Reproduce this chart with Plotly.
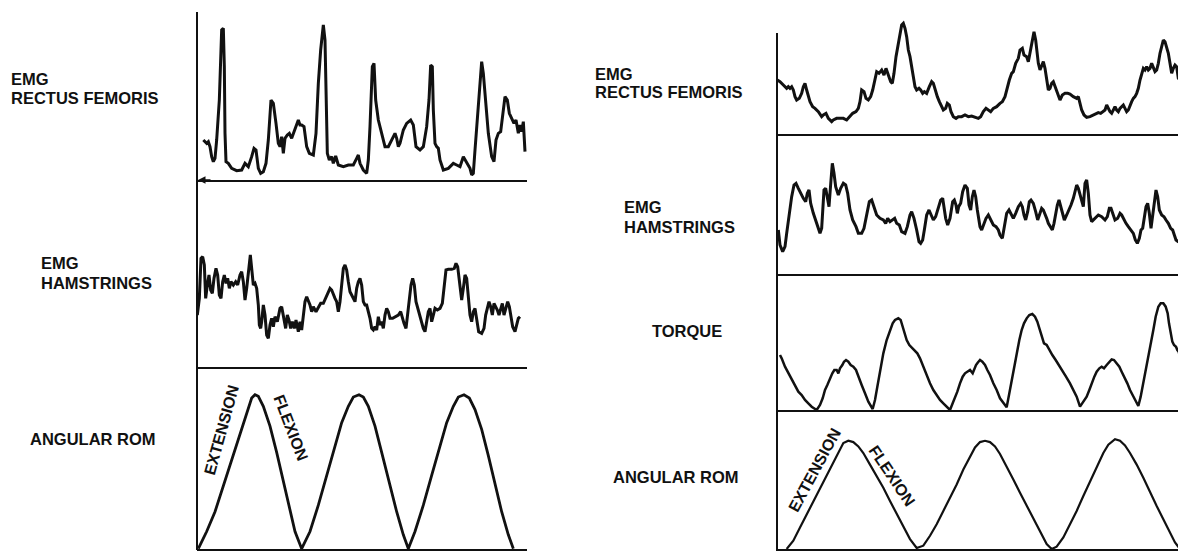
import plotly.graph_objects as go

# ---------------- data ----------------
# time in arbitrary units, amplitude in arbitrary units above each trace's baseline

# LEFT: EMG rectus femoris
L_RF_T = [40,50,55,60,65,70,75,80,88,95,100,103,105,108,115,125,140,155,165,175,185,192,198,205,212,220,228,235,243,250,
          258,265,270,275,280,285,292,298,305,310,318,325,330,335,342,350,358,370,378,385,392,400,405,408,412,418,425,430,437,445,
          460,475,490,500,505,510,520,530,535,540,547,552,557,565,575,585,595,605,615,620,625,630,640,650,662,670,678,690,700,710,
          717,722,727,730,735,740,745,750,760,775,790,800,810,820,830,840,845,850,855,862,870,875,880,887,895,905,912,918,925,932,
          937,945,952,958,965,972,978,985,990,995,1000,1005]
L_RF_V = [120,110,115,100,70,55,65,120,240,450,455,340,140,55,50,35,28,30,50,40,70,95,90,35,20,25,50,120,240,230,
          170,110,100,130,80,125,135,140,125,140,160,180,165,165,160,100,80,75,140,290,390,465,420,240,80,60,70,50,72,45,
          40,45,45,65,75,50,30,20,60,160,340,350,240,180,140,100,100,120,140,125,100,110,150,170,180,165,100,90,100,160,
          240,345,340,210,110,100,95,60,30,35,50,45,40,70,50,35,15,20,90,190,310,355,320,240,140,70,55,120,140,145,
          190,250,240,200,185,170,180,140,165,145,175,85]

# LEFT: EMG hamstrings
L_HAM_T = [22,28,33,38,43,47,52,57,62,67,72,78,83,88,93,98,103,108,113,118,123,130,137,143,150,155,160,165,170,176,
           181,186,190,195,200,205,208,212,215,220,225,230,235,240,245,250,255,262,270,275,280,287,292,297,302,307,313,318,325,330,
           335,340,345,350,355,360,365,370,378,385,392,400,408,415,420,425,430,435,440,445,450,455,460,465,470,475,480,485,490,495,
           500,505,510,515,520,525,530,535,540,545,550,555,560,565,570,575,580,585,590,595,600,608,615,625,632,637,642,648,653,658,
           663,668,673,678,683,688,695,700,705,710,715,720,725,730,735,742,750,757,762,768,775,785,793,798,803,808,812,815,820,825,
           830,835,840,845,850,855,860,866,875,882,887,892,897,902,907,912,917,922,927,932,937,942,947,953,958,963,968,975,980,985,990]
L_HAM_V = [155,205,325,330,305,205,245,275,230,220,265,295,275,215,205,255,275,250,265,235,255,245,255,245,275,285,255,200,235,295,
           335,285,245,250,235,185,125,115,135,185,155,95,85,125,145,120,150,135,175,180,155,115,155,140,115,135,115,140,105,135,
           110,155,195,210,200,185,165,180,165,180,190,190,210,225,235,230,215,205,195,165,195,255,295,305,290,255,225,215,205,195,
           235,255,265,245,195,185,185,165,145,115,110,120,110,150,125,135,115,155,175,165,145,145,150,155,165,145,130,115,155,195,
           245,265,245,195,175,155,135,115,105,135,165,175,135,155,175,170,175,190,235,290,292,292,295,310,300,255,230,200,235,275,
           265,215,155,135,165,175,145,105,100,115,155,175,195,180,155,190,180,170,155,175,190,155,175,195,180,145,120,105,125,145,150]

# LEFT: angular range of motion
L_ROM_T = [25,50,75,100,125,150,170,185,195,205,220,240,260,280,300,315,335,360,385,410,435,455,475,490,507,520,535,555,575,600,
           620,640,655,675,700,725,750,770,790,805,822,838,855,875,895,915,935,955,970]
L_ROM_V = [3,55,115,195,275,355,415,460,470,465,435,375,295,205,115,55,3,55,135,225,315,385,435,463,470,463,435,375,295,195,
           115,45,3,55,135,225,315,385,435,463,470,460,425,365,285,195,115,45,3]

# RIGHT: EMG rectus femoris
R_RF_T = [22,30,40,50,55,60,65,70,75,80,88,95,100,105,110,115,120,128,135,145,155,160,168,175,185,190,200,210,220,230,
          240,248,258,265,270,275,282,288,295,302,308,315,320,327,335,342,348,355,362,367,372,378,383,390,395,400,405,410,415,420,
          425,430,435,440,447,452,458,463,470,478,485,490,495,502,508,515,520,527,532,538,543,550,558,565,575,585,595,605,615,625,
          632,640,648,655,662,670,680,690,697,705,712,718,725,730,737,745,750,757,762,770,775,780,785,792,797,800,805,810,815,820,
          825,830,835,840,845,850,855,862,870,877,885,893,900,910,920,925,930,935,942,950,960,970,978,985,992,998,1005,1010,1015,1020,
          1025,1030,1035,1040,1045,1050,1055,1060,1065,1070,1075,1080,1085,1090,1095,1100,1105,1110,1115,1120,
          1125,1130,1135,1140,1145,1150,1155,1160,1165,1170,1175,1180,1185,1190,1195,1200,1205,1210,1215,1220,1225,1230,1235]
R_RF_V = [160,155,145,135,140,135,140,130,110,100,105,120,140,150,130,110,95,80,75,65,50,55,60,45,35,40,45,45,45,40,
          50,60,65,75,95,130,125,105,100,110,130,160,185,180,190,175,195,175,155,150,180,230,260,290,325,330,315,290,250,230,
          200,165,140,130,135,130,120,125,120,140,155,150,130,110,95,80,70,75,90,85,65,50,45,50,50,55,50,52,48,45,
          50,65,75,70,65,75,80,90,95,110,140,160,180,185,210,225,250,255,235,230,215,245,270,305,280,250,210,190,205,215,
          195,165,130,135,150,155,140,120,100,115,120,120,118,110,105,110,90,70,55,48,50,55,60,62,60,65,70,85,75,65,
          60,70,80,70,65,75,80,85,75,65,70,85,95,105,110,120,135,160,180,195,
          190,200,190,195,210,200,185,190,210,240,265,280,275,260,240,210,180,195,205,200,165,160,105]

# RIGHT: EMG hamstrings
R_HAM_T = [25,30,38,45,50,58,65,72,78,85,92,100,107,112,117,122,130,140,150,155,158,162,167,172,177,183,187,192,197,205,
           212,220,227,233,240,248,258,265,275,282,290,298,305,313,320,330,340,347,353,360,367,374,380,388,395,405,412,420,425,432,
           440,447,452,458,463,470,477,484,490,497,505,512,518,522,527,533,540,548,553,558,562,566,572,578,585,592,597,602,607,612,
           617,622,630,635,640,648,655,662,670,678,685,690,697,703,710,717,724,730,737,745,752,757,762,767,773,778,783,790,797,803,
           810,815,820,825,830,835,840,847,852,857,862,867,872,877,883,890,897,903,910,915,920,925,930,935,940,945,950,955,960,965,
           970,978,985,995,1005,1012,1018,1023,1028,1035,1043,1050,1055,1062,1068,1075,1082,1090,1096,1102,
           1108,1113,1118,1123,1128,1133,1138,1143,1148,1153,1158,1163,1168,1175,1182,1188,1195,1202,1208,1213,1218,1225,1232,1238]
R_HAM_V = [132,87,67,82,122,182,232,267,272,257,242,227,217,242,252,212,182,152,122,137,192,252,257,222,202,282,332,302,262,237,
           257,272,267,242,192,162,142,122,122,137,182,217,222,197,177,167,162,152,167,157,162,167,152,147,127,122,142,177,187,167,
           132,97,92,102,132,177,192,177,162,172,197,222,227,202,167,147,167,217,222,207,182,202,212,247,267,257,207,192,232,252,
           232,192,142,132,147,167,177,162,147,142,132,117,107,142,182,192,177,167,182,202,212,202,177,162,187,217,222,212,187,162,
           182,197,192,182,167,152,142,132,152,187,207,222,202,177,162,177,192,207,227,247,267,257,237,217,202,272,282,242,177,157,
           162,172,177,172,162,172,197,197,182,162,167,182,177,162,152,142,132,122,102,92,
           107,132,137,167,202,212,182,137,182,222,252,232,192,177,172,162,152,137,132,117,102,97,92,87]

# RIGHT: torque
R_TQ_T = [30,35,45,55,65,75,85,95,105,115,125,140,150,158,165,172,180,187,193,200,205,210,217,222,228,235,242,250,258,265,
          275,285,295,308,315,322,330,340,350,360,368,375,385,392,398,403,410,418,428,435,442,450,460,470,480,490,500,510,520,530,
          540,548,555,562,570,578,585,592,600,608,613,618,623,630,637,645,652,660,670,680,690,700,710,718,725,732,740,748,755,762,
          770,778,787,795,802,808,815,822,830,838,847,857,867,877,888,900,910,920,930,940,950,958,965,973,980,988,995,1002,1010,1018,
          1025,1032,1040,1048,1055,1063,1072,1080,1088,1095,1105,1112,1120,1128,1135,1142,1150,1157,1165,1172,
          1180,1187,1193,1197,1202,1207,1212,1218,1222,1226,1230]
R_TQ_V = [165,155,130,110,90,70,55,45,30,20,10,0,15,35,60,75,95,110,120,120,110,125,135,145,150,145,135,130,120,100,
          75,50,25,3,30,70,120,170,210,240,260,270,275,270,250,230,210,195,185,180,170,155,130,100,80,60,45,30,20,10,
          0,20,35,55,80,100,110,115,120,110,125,135,142,150,145,135,120,105,80,60,35,20,8,50,90,120,170,210,240,260,
          275,285,288,280,265,245,220,200,195,180,165,150,135,120,100,80,60,40,10,25,40,60,80,100,115,125,130,125,135,145,
          152,150,140,130,115,100,80,60,45,30,12,40,80,120,160,200,240,280,310,320,
          320,310,290,260,230,205,195,190,180,175,160]

# RIGHT: angular range of motion
R_ROM_T = [50,70,90,110,130,150,170,190,205,220,235,250,265,280,300,320,340,360,380,400,420,440,460,480,500,520,540,560,580,600,
           615,630,645,660,675,690,710,730,750,770,790,810,830,845,860,880,900,920,940,960,980,1000,1015,1035,1050,1065,1080,1100,1120,1140,
           1160,1180,1200,1215,1230]
R_ROM_V = [0,25,65,105,145,185,225,265,295,320,327,323,310,290,255,220,185,145,105,65,30,3,10,40,75,115,155,195,240,280,
           307,323,327,323,310,287,250,210,170,130,90,50,15,0,7,35,75,115,160,205,250,290,315,332,327,313,290,255,215,170,
           130,90,50,20,0]

for a, b in [(L_RF_T, L_RF_V), (L_HAM_T, L_HAM_V), (L_ROM_T, L_ROM_V), (R_RF_T, R_RF_V),
             (R_HAM_T, R_HAM_V), (R_TQ_T, R_TQ_V), (R_ROM_T, R_ROM_V)]:
    assert len(a) == len(b), (len(a), len(b))

# ---------------- layout geometry (pixels in the 1186x553 window) ----------------
OFF = 8                      # default page margin around the plot div
W, H = 1186 - OFF, 553 - OFF
def fx(p):
    return (p - OFF) / W
def fy(p):
    return 1 - (p - OFF) / H

# (x0, x1, ytop, ybottom, xrange, yrange)
PANELS = [
    (197, 527, 12, 180, [21, 1011], [0, 504]),
    (197, 527, 180, 366.7, [21, 1011], [0, 560]),
    (197, 527, 366.7, 549, [21, 1011], [2, 555]),
    (776, 1183, 16, 134, [18, 1239], [-2, 352]),
    (776, 1183, 134, 274, [18, 1239], [0, 420]),
    (776, 1183, 274, 410, [18, 1239], [0, 408]),
    (776, 1183, 410, 549, [18, 1239], [0, 420]),
]
SERIES = [(L_RF_T, L_RF_V, 3.0), (L_HAM_T, L_HAM_V, 3.0), (L_ROM_T, L_ROM_V, 2.8),
          (R_RF_T, R_RF_V, 3.0), (R_HAM_T, R_HAM_V, 3.0), (R_TQ_T, R_TQ_V, 2.5), (R_ROM_T, R_ROM_V, 2.2)]

fig = go.Figure()
layout = dict(width=W, height=H, margin=dict(l=0, r=0, t=0, b=0),
              paper_bgcolor="white", plot_bgcolor="rgba(0,0,0,0)", showlegend=False)

for i, ((x0, x1, yt, yb, xr, yr), (t, v, lw)) in enumerate(zip(PANELS, SERIES), start=1):
    sx = "" if i == 1 else str(i)
    fig.add_trace(go.Scatter(x=t, y=v, mode="lines", line=dict(color="#111111", width=lw),
                             xaxis="x" + sx, yaxis="y" + sx, hoverinfo="skip"))
    layout["xaxis" + sx] = dict(domain=[fx(x0), fx(x1)], range=xr, anchor="y" + sx,
                                showline=True, linecolor="#111111", linewidth=2,
                                showgrid=False, zeroline=False, showticklabels=False, ticks="")
    layout["yaxis" + sx] = dict(domain=[fy(yb), fy(yt)], range=yr, anchor="x" + sx,
                                showline=False, showgrid=False, zeroline=False,
                                showticklabels=False, ticks="")

fig.update_layout(**layout)

# vertical frame lines
fig.add_shape(type="line", xref="paper", yref="paper", x0=fx(197), x1=fx(197), y0=fy(12), y1=fy(550),
              line=dict(color="#111111", width=2))
fig.add_shape(type="line", xref="paper", yref="paper", x0=fx(777), x1=fx(777), y0=fy(33), y1=fy(550),
              line=dict(color="#111111", width=2))

# small arrowhead on the left separator line
fig.add_annotation(x=fx(198), y=fy(180), xref="paper", yref="paper", ax=14, ay=0, text="",
                   showarrow=True, arrowhead=2, arrowsize=1, arrowwidth=1.5, arrowcolor="#111111")

FONT = "Liberation Sans, Arial, Helvetica, sans-serif"
LABELS = [
    ("EMG", 11, 79), ("RECTUS FEMORIS", 11, 98),
    ("EMG", 41, 263), ("HAMSTRINGS", 41, 283),
    ("ANGULAR ROM", 30, 439),
    ("EMG", 595, 74), ("RECTUS FEMORIS", 595, 92),
    ("EMG", 624, 207), ("HAMSTRINGS", 624, 227),
    ("TORQUE", 652, 331),
    ("ANGULAR ROM", 613, 477),
]
for txt, x, y in LABELS:
    fig.add_annotation(x=fx(x - 2), y=fy(y), xref="paper", yref="paper", text="<b>%s</b>" % txt,
                       showarrow=False, xanchor="left", yanchor="middle",
                       font=dict(family=FONT, size=16.5, color="#111111"))

ROT = [("EXTENSION", 221, 430, -74.5), ("FLEXION", 291, 427, 69),
       ("EXTENSION", 814, 470, -61.6), ("FLEXION", 892, 475, 56)]
for txt, x, y, ang in ROT:
    fig.add_annotation(x=fx(x), y=fy(y), xref="paper", yref="paper", text="<b>%s</b>" % txt,
                       showarrow=False, xanchor="center", yanchor="middle", textangle=ang,
                       font=dict(family=FONT, size=16, color="#111111"))

fig.write_html("out.html")
